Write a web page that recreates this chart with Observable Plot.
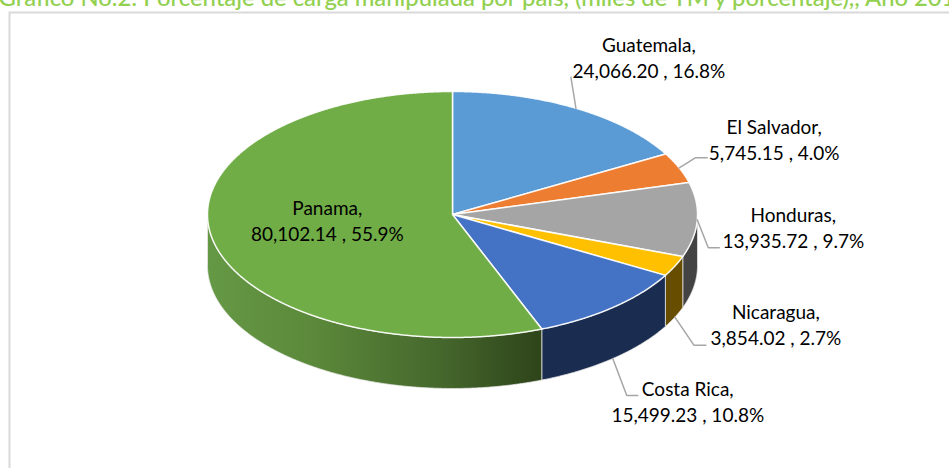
<!DOCTYPE html>
<html>
<head>
<meta charset="utf-8">
<script src="https://cdn.jsdelivr.net/npm/d3@7"></script>
<script src="https://cdn.jsdelivr.net/npm/@observablehq/plot@0.6"></script>
<style>html,body{margin:0;padding:0;background:#fff}svg{display:block}</style>
</head>
<body>
<div id="chart"></div>
<script>
const countries = ["Guatemala", "El Salvador", "Honduras", "Nicaragua", "Costa Rica", "Panama"];
const tonnes = [24066.20, 5745.15, 13935.72, 3854.02, 15499.23, 80102.14];
const shares = ["16.8%", "4.0%", "9.7%", "2.7%", "10.8%", "55.9%"];
const topColors = ["#5b9bd5", "#ed7d31", "#a5a5a5", "#ffc000", "#4472c4", "#70ad47"];
const sideColors = ["#355d7e", "#8b4a1f", "#434343", "#664d00", "#1a2c4f", "url(#panamaSide)"];
const titleText = "Gráfico No.2: Porcentaje de carga manipulada por país, (miles de TM y porcentaje),, Año 2019";

const W = 949, H = 468;
const X0 = 207, X1 = 697, Y0 = 91, Y1 = 337, DEPTH_PX = 51;
const pxX = (X1 - X0) / 2, pxY = (Y1 - Y0) / 2;
const depth = DEPTH_PX / pxY;

const TAU = 2 * Math.PI;
const arcs = d3.pie().sort(null).startAngle(0).endAngle(TAU)(tonnes);
const rim = (a, drop = 0) => ({x: Math.sin(a), y: Math.cos(a) - drop});
const arcPts = (a0, a1, drop = 0) => {
  const n = Math.max(2, Math.ceil((a1 - a0) / 0.005));
  return d3.range(n + 1).map(i => rim(a0 + (a1 - a0) * i / n, drop));
};

const tops = arcs.map((s, i) => ({i, pts: [{x: 0, y: 0}, ...arcPts(s.startAngle, s.endAngle), {x: 0, y: 0}]}));
const sides = arcs.map((s, i) => {
  const a0 = Math.max(s.startAngle, Math.PI / 2), a1 = Math.min(s.endAngle, 1.5 * Math.PI);
  if (a1 <= a0) return null;
  const up = arcPts(a0, a1), down = arcPts(a0, a1, depth).reverse();
  return {i, pts: [...up, ...down, up[0]]};
}).filter(Boolean);

// label layout, in pixels relative to the slice's rim anchor (dropped anchors leave from the side wall)
const layout = [
  {drop: 0, elbow: [-5, -31], end: [-5, -31], text: [73, -52]},
  {drop: 0, elbow: [16, -10], end: [28, -10], text: [95, -29]},
  {drop: 0, elbow: [11, 28], end: [22, 28], text: [96, 7]},
  {drop: 1, elbow: [19, 28], end: [31, 28], text: [101, 7]},
  {drop: 1, elbow: [14, 37], end: [25, 37], text: [75, 42]},
];
const mid = s => (s.startAngle + s.endAngle) / 2;
const off = ([dx, dy]) => [dx / pxX, -dy / pxY];
const leaders = [];
const labels = [];
arcs.forEach((s, i) => {
  const text = `${countries[i]},\n${d3.format(",.2f")(tonnes[i])} , ${shares[i]}`;
  const L = layout[i];
  if (!L) { labels.push({x: -0.511, y: (214 - 219) / pxY, text}); return; }
  const a = rim(mid(s), L.drop ? depth : 0);
  const [ex, ey] = off(L.elbow), [fx, fy] = off(L.end), [tx, ty] = off(L.text);
  leaders.push({i, pts: [a, {x: a.x + ex, y: a.y + ey}, {x: a.x + fx, y: a.y + fy}]});
  labels.push({x: a.x + tx, y: a.y + ty, text});
});

const defs = () => {
  const ns = "http://www.w3.org/2000/svg";
  const d = document.createElementNS(ns, "defs");
  const g = document.createElementNS(ns, "linearGradient");
  g.setAttribute("id", "panamaSide");
  g.setAttribute("x1", "0"); g.setAttribute("x2", "1"); g.setAttribute("y1", "0"); g.setAttribute("y2", "0");
  [[0, "#659845"], [0.3, "#5c8a3b"], [0.7, "#45672c"], [1, "#2e441a"]].forEach(([o, c]) => {
    const st = document.createElementNS(ns, "stop");
    st.setAttribute("offset", o); st.setAttribute("stop-color", c);
    g.appendChild(st);
  });
  d.appendChild(g);
  return d;
};

const marks = [
  defs,
  Plot.frame({stroke: "#d9d9d9", strokeWidth: 2, insetLeft: 9, insetTop: 12, insetRight: -6, insetBottom: -6}),
  Plot.text([titleText], {frameAnchor: "top-left", dx: -2, dy: -2, lineAnchor: "middle", fill: "#92d050", fontSize: 23.8, fontFamily: "Lato", fontWeight: 500, textAnchor: "start"}),
  ...sides.map(d => Plot.line(d.pts, {x: "x", y: "y", fill: sideColors[d.i], stroke: "#e8e8e8", strokeWidth: 1, strokeOpacity: 0.75, curve: "linear"})),
  ...tops.map(d => Plot.line(d.pts, {x: "x", y: "y", fill: topColors[d.i], stroke: "#ffffff", strokeWidth: 1.5, strokeOpacity: 0.9, curve: "linear"})),
  ...leaders.map(d => Plot.line(d.pts, {x: "x", y: "y", stroke: "#a6a6a6", strokeWidth: 1.5, curve: "linear"})),
  Plot.text(labels, {x: "x", y: "y", text: "text", fill: "#000", fontSize: 19, fontFamily: "Lato", lineHeight: 1.37, textAnchor: "middle"})
];

const chart = Plot.plot({
  width: W, height: H, margin: 0,
  x: {domain: [-1, 1], range: [X0, X1], axis: null},
  y: {domain: [-1, 1], range: [Y1, Y0], axis: null},
  style: {background: "#fff", overflow: "hidden"},
  marks
});
document.getElementById("chart").append(chart);
</script>
</body>
</html>
